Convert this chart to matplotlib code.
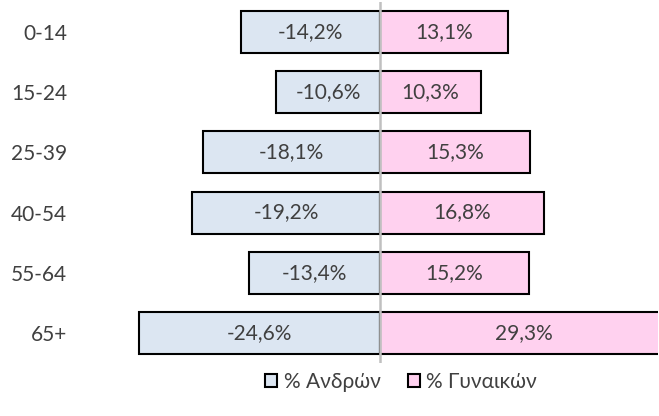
import matplotlib.pyplot as plt
from matplotlib.patches import Patch

plt.rcParams['font.family'] = ['Lato', 'DejaVu Sans']

groups = ['0-14', '15-24', '25-39', '40-54', '55-64', '65+']
men = [-14.2, -10.6, -18.1, -19.2, -13.4, -24.6]
women = [13.1, 10.3, 15.3, 16.8, 15.2, 29.3]

c_men = '#dce6f2'
c_women = '#ffd1ef'
txt = '#404040'

fig = plt.figure(figsize=(6.59, 4.16), dpi=100)
W, H = 659, 416
ax = fig.add_axes([102 / W, 1 - 363 / H, 556 / W, 361 / H])

y = list(range(len(groups)))
ax.barh(y, men, height=0.7, color=c_men, edgecolor='black', linewidth=1.5)
ax.barh(y, women, height=0.7, color=c_women, edgecolor='black', linewidth=1.5)

for i in y:
    ax.text(men[i] / 2, i, f'{men[i]:.1f}%'.replace('.', ','), ha='center', va='center',
            fontsize=15, color=txt)
    ax.text(women[i] / 2, i, f'{women[i]:.1f}%'.replace('.', ','), ha='center', va='center',
            fontsize=15, color=txt)

ax.axvline(0, color='#c0c0c0', linewidth=1.8, zorder=5)
ax.set_xlim(-28.4, 28.4)
ax.set_ylim(len(groups) - 0.5, -0.5)
ax.set_yticks(y)
ax.set_yticklabels(groups, fontsize=15, color=txt)
ax.tick_params(axis='y', length=0, pad=25)
ax.set_xticks([])
for s in ax.spines.values():
    s.set_visible(False)

handles = [Patch(facecolor=c_men, edgecolor='black', linewidth=1.5, label='% Ανδρών'),
           Patch(facecolor=c_women, edgecolor='black', linewidth=1.5, label='% Γυναικών')]
leg = fig.legend(handles=handles, loc='center', bbox_to_anchor=(401 / W, 1 - 382 / H),
                 ncol=2, frameon=False, fontsize=15, handlelength=0.6, handleheight=0.6,
                 handletextpad=0.3, columnspacing=1.3)
for t in leg.get_texts():
    t.set_color(txt)

fig.savefig('out.png', dpi=100)
